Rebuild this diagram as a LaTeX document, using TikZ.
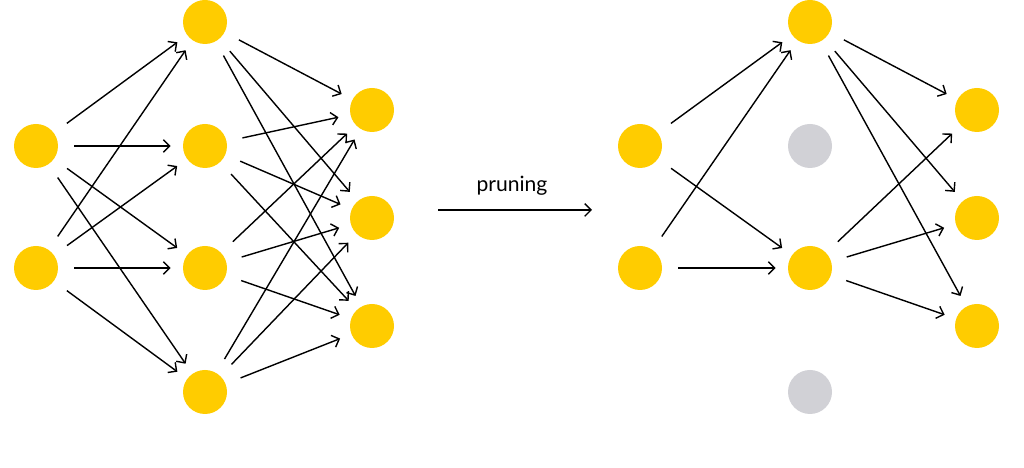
\documentclass[tikz,border=0pt]{standalone}
\usepackage{fontspec}
\newfontfamily\handfont{Lato}
\usepackage{tikz}
\usetikzlibrary{arrows.meta}
\usetikzlibrary{positioning}
\definecolor{neuronyellow}{HTML}{FFCC00}
\definecolor{prunedgray}{HTML}{D1D1D6}
\tikzstyle{neuron}=[fill=neuronyellow,circle,minimum size=1.1cm,inner sep=0pt]
\tikzstyle{pruned}=[fill=prunedgray]
\tikzstyle{synapse}=[-{Straight Barb[length=4.5pt,width=9pt]},line width=1pt,shorten <=0.4cm,shorten >=0.3cm]

\begin{document}
\begin{tikzpicture}
\useasboundingbox (0,0) rectangle (25.6,11.7);

% dense network
\node [neuron] (i1) at (0.9,8.05) {};
\node [neuron] (i2) at (0.9,5.0) {};
\node [neuron] (h1) at (5.125,11.15) {};
\node [neuron] (h2) at (5.125,8.05) {};
\node [neuron] (h3) at (5.125,5.0) {};
\node [neuron] (h4) at (5.125,1.9) {};
\node [neuron] (o1) at (9.3,8.95) {};
\node [neuron] (o2) at (9.3,6.25) {};
\node [neuron] (o3) at (9.3,3.55) {};

\foreach \a in {i1,i2}
  \foreach \b in {h1,h2,h3,h4}
    \draw [synapse] (\a) -- (\b);
\foreach \a in {h1,h2,h3,h4}
  \foreach \b in {o1,o2,o3}
    \draw [synapse] (\a) -- (\b);

% pruning step
\node (ps) at (10.95,6.45) {};
\node (pe) at (14.8,6.45) {};
\draw [-{Straight Barb[length=4.5pt,width=9pt]},line width=1pt] (ps.center) -- (pe.center);
\node at (12.8,7.05) {\handfont\fontsize{15}{17}\selectfont pruning};

% pruned network
\node [neuron] (pi1) at (16.0,8.05) {};
\node [neuron] (pi2) at (16.0,5.0) {};
\node [neuron] (ph1) at (20.25,11.15) {};
\node [neuron,pruned] (ph2) at (20.25,8.05) {};
\node [neuron] (ph3) at (20.25,5.0) {};
\node [neuron,pruned] (ph4) at (20.25,1.9) {};
\node [neuron] (po1) at (24.425,8.95) {};
\node [neuron] (po2) at (24.425,6.25) {};
\node [neuron] (po3) at (24.425,3.55) {};

\foreach \a in {pi1,pi2}
  \foreach \b in {ph1,ph3}
    \draw [synapse] (\a) -- (\b);
\foreach \a in {ph1,ph3}
  \foreach \b in {po1,po2,po3}
    \draw [synapse] (\a) -- (\b);

\end{tikzpicture}
\end{document}
